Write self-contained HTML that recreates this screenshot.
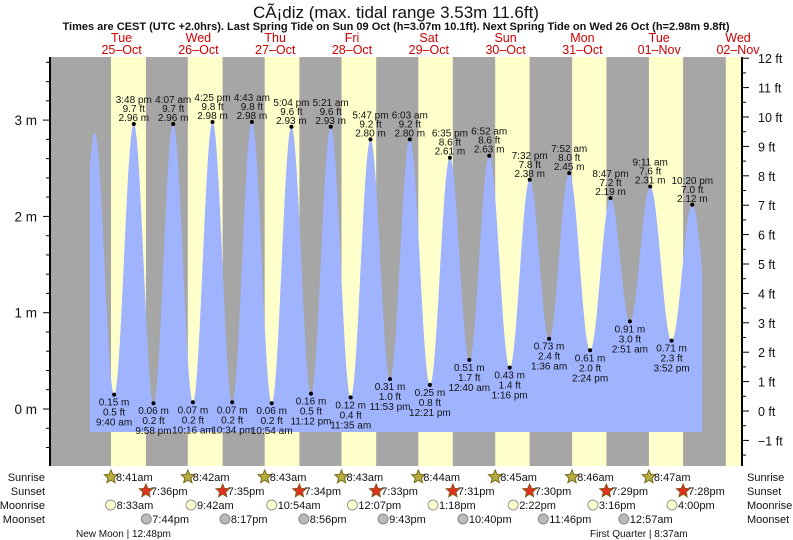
<!DOCTYPE html>
<html><head><meta charset="utf-8"><style>
html,body{margin:0;padding:0;background:#fff;width:793px;height:540px;overflow:hidden}
svg{display:block;font-family:"Liberation Sans",sans-serif}
</style></head><body>
<svg id="s" width="793" height="540" viewBox="0 0 793 540" xmlns="http://www.w3.org/2000/svg"></svg>
<script>
var S=document.getElementById('s');var o='';
var X0=83.2,PH=3.2;function X(h){return X0+h*PH}
function Y(m){return 409-m*96.3}
o+='<rect x="50" y="57" width="691" height="409" fill="#a6a6a6"/>';
var sr=[8.683,8.7,8.717,8.717,8.733,8.75,8.767,8.783,8.8],ss=[19.6,19.583,19.567,19.55,19.517,19.5,19.483,19.467,19.45];
for(var d=0;d<9;d++){var a=X(d*24+sr[d]),b=X(d*24+ss[d]);if(a>741)break;b=Math.min(b,741);o+='<rect x="'+a.toFixed(1)+'" y="57" width="'+(b-a).toFixed(1)+'" height="409" fill="#ffffcc"/>';}
var E=[[3.6,2.87],[9.67,0.15],[15.8,2.96],[21.97,0.06],[28.12,2.96],[34.27,0.07],[40.42,2.98],[46.57,0.07],[52.72,2.98],[58.9,0.06],[65.07,2.93],[71.2,0.16],[77.35,2.93],[83.58,0.12],[89.78,2.80],[95.88,0.31],[102.05,2.80],[108.35,0.25],[114.58,2.61],[120.67,0.51],[126.87,2.63],[133.27,0.43],[139.53,2.38],[145.6,0.73],[151.87,2.45],[158.4,0.61],[164.78,2.19],[170.85,0.91],[177.18,2.31],[183.87,0.71],[190.33,2.12],[196.6,0.75]];
E.unshift([-2.6,0.2]);
function lvl(h){for(var i=0;i<E.length-1;i++){if(h>=E[i][0]&&h<=E[i+1][0]){var f=(h-E[i][0])/(E[i+1][0]-E[i][0]);return E[i][1]+(E[i+1][1]-E[i][1])*(1-Math.cos(Math.PI*f))/2;}}return 0}
var p='M90,432';for(var x=90;x<=702;x+=0.5){var h=(x-X0)/PH;p+=' L'+x+','+Y(lvl(h)).toFixed(1);}p+=' L702,432 Z';
o+='<path d="'+p+'" fill="#9fb3ff"/>';
var L=[[15.8,2.96,'3:48 pm','9.7 ft'],[28.12,2.96,'4:07 am','9.7 ft'],[40.42,2.98,'4:25 pm','9.8 ft'],[52.72,2.98,'4:43 am','9.8 ft'],[65.07,2.93,'5:04 pm','9.6 ft'],[77.35,2.93,'5:21 am','9.6 ft'],[89.78,2.80,'5:47 pm','9.2 ft'],[102.05,2.80,'6:03 am','9.2 ft'],[114.58,2.61,'6:35 pm','8.6 ft'],[126.87,2.63,'6:52 am','8.6 ft'],[139.53,2.38,'7:32 pm','7.8 ft'],[151.87,2.45,'7:52 am','8.0 ft'],[164.78,2.19,'8:47 pm','7.2 ft'],[177.18,2.31,'9:11 am','7.6 ft'],[190.33,2.12,'10:20 pm','7.0 ft']];
var Lo=[[9.67,0.15,'9:40 am','0.5 ft'],[21.97,0.06,'9:58 pm','0.2 ft'],[34.27,0.07,'10:16 am','0.2 ft'],[46.57,0.07,'10:34 pm','0.2 ft'],[58.9,0.06,'10:54 am','0.2 ft'],[71.2,0.16,'11:12 pm','0.5 ft'],[83.58,0.12,'11:35 am','0.4 ft'],[95.88,0.31,'11:53 pm','1.0 ft'],[108.35,0.25,'12:21 pm','0.8 ft'],[120.67,0.51,'12:40 am','1.7 ft'],[133.27,0.43,'1:16 pm','1.4 ft'],[145.6,0.73,'1:36 am','2.4 ft'],[158.4,0.61,'2:24 pm','2.0 ft'],[170.85,0.91,'2:51 am','3.0 ft'],[183.87,0.71,'3:52 pm','2.3 ft']];
var T='font-size="10" fill="#111" text-anchor="middle"';
L.forEach(function(e){var x=X(e[0]),y=Y(e[1]);o+='<circle cx="'+x.toFixed(1)+'" cy="'+y.toFixed(1)+'" r="2" fill="#000"/>';
o+='<text x="'+x.toFixed(1)+'" y="'+(y-3).toFixed(1)+'" '+T+'>'+e[1].toFixed(2)+' m</text><text x="'+x.toFixed(1)+'" y="'+(y-12).toFixed(1)+'" '+T+'>'+e[3]+'</text><text x="'+x.toFixed(1)+'" y="'+(y-21).toFixed(1)+'" '+T+'>'+e[2]+'</text>';});
Lo.forEach(function(e){var x=X(e[0]),y=Y(e[1]);o+='<circle cx="'+x.toFixed(1)+'" cy="'+y.toFixed(1)+'" r="2" fill="#000"/>';
o+='<text x="'+x.toFixed(1)+'" y="'+(y+11).toFixed(1)+'" '+T+'>'+e[1].toFixed(2)+' m</text><text x="'+x.toFixed(1)+'" y="'+(y+21).toFixed(1)+'" '+T+'>'+e[3]+'</text><text x="'+x.toFixed(1)+'" y="'+(y+31).toFixed(1)+'" '+T+'>'+e[2]+'</text>';});
o+='<line x1="50" y1="57" x2="50" y2="466" stroke="#000" stroke-width="2"/><line x1="742" y1="57" x2="742" y2="466" stroke="#000" stroke-width="2"/>';
for(var m=-0.6;m<=3.61;m+=0.2){var y=Y(m);if(y<57||y>466)continue;var maj=Math.abs(m-Math.round(m))<0.01;o+='<line x1="'+(maj?43:46)+'" y1="'+y.toFixed(1)+'" x2="50" y2="'+y.toFixed(1)+'" stroke="#000"/>';if(maj)o+='<text x="37" y="'+(y+5).toFixed(1)+'" font-size="13.5" text-anchor="end" fill="#111">'+Math.round(m)+' m</text>';}
for(var f=-1.5;f<=12.01;f+=0.5){var y=411-f*29.4;var maj=Math.abs(f-Math.round(f))<0.01;o+='<line x1="742" y1="'+y.toFixed(1)+'" x2="'+(maj?749:746)+'" y2="'+y.toFixed(1)+'" stroke="#000"/>';if(maj)o+='<text x="758" y="'+(y+5).toFixed(1)+'" font-size="12.5" fill="#111">'+(f<0?'\u2212'+(-f):f)+' ft</text>';}
o+='<text x="396" y="18" font-size="17" text-anchor="middle" fill="#111">CÃ¡diz (max. tidal range 3.53m 11.6ft)</text>';
o+='<text x="396" y="30" font-size="11" font-weight="bold" text-anchor="middle" fill="#111">Times are CEST (UTC +2.0hrs). Last Spring Tide on Sun 09 Oct (h=3.07m 10.1ft). Next Spring Tide on Wed 26 Oct (h=2.98m 9.8ft)</text>';
var dn=['Tue','Wed','Thu','Fri','Sat','Sun','Mon','Tue','Wed'],dd=['25\u2013Oct','26\u2013Oct','27\u2013Oct','28\u2013Oct','29\u2013Oct','30\u2013Oct','31\u2013Oct','01\u2013Nov','02\u2013Nov'];
for(var d=0;d<9;d++){var x=X(d*24+12);if(d==8)x=738;o+='<text x="'+x.toFixed(1)+'" y="42" font-size="12.5" fill="#cc0000" text-anchor="middle">'+dn[d]+'</text><text x="'+x.toFixed(1)+'" y="54" font-size="12.5" fill="#cc0000" text-anchor="middle">'+dd[d]+'</text>';}
var rows=['Sunrise','Sunset','Moonrise','Moonset'],ry=[477,491,505,519];
rows.forEach(function(r,i){o+='<text x="45" y="'+(ry[i]+4)+'" font-size="11" text-anchor="end" fill="#111">'+r+'</text><text x="747" y="'+(ry[i]+4)+'" font-size="11" fill="#111">'+r+'</text>';});
function star(cx,cy,fill,stroke){var pts='';for(var k=0;k<10;k++){var rr=k%2?3.2:7,a=-Math.PI/2+k*Math.PI/5;pts+=(cx+rr*Math.cos(a)).toFixed(1)+','+(cy+rr*Math.sin(a)).toFixed(1)+' ';}return '<polygon points="'+pts+'" fill="'+fill+'" stroke="'+stroke+'" stroke-width="1"/>';}
var srt=['8:41am','8:42am','8:43am','8:43am','8:44am','8:45am','8:46am','8:47am'],sst=['7:36pm','7:35pm','7:34pm','7:33pm','7:31pm','7:30pm','7:29pm','7:28pm'];
for(var d=0;d<8;d++){var x=X(d*24+sr[d]);o+=star(x,ry[0],'#b5ad3c','#7a6a20')+'<text x="'+(x+5).toFixed(1)+'" y="'+(ry[0]+4)+'" font-size="11" fill="#111">'+srt[d]+'</text>';
x=X(d*24+ss[d]);o+=star(x,ry[1],'#e03020','#8a5a20')+'<text x="'+(x+5).toFixed(1)+'" y="'+(ry[1]+4)+'" font-size="11" fill="#111">'+sst[d]+'</text>';}
var mr=[[8.55,'8:33am'],[33.7,'9:42am'],[58.9,'10:54am'],[84.12,'12:07pm'],[109.3,'1:18pm'],[134.37,'2:22pm'],[159.27,'3:16pm'],[184,'4:00pm']];
mr.forEach(function(e){var x=X(e[0]);o+='<circle cx="'+x.toFixed(1)+'" cy="'+ry[2]+'" r="5" fill="#ffffcc" stroke="#999"/><text x="'+(x+6).toFixed(1)+'" y="'+(ry[2]+4)+'" font-size="11" fill="#111">'+e[1]+'</text>';});
var ms=[[19.73,'7:44pm'],[44.28,'8:17pm'],[68.93,'8:56pm'],[93.72,'9:43pm'],[118.67,'10:40pm'],[143.77,'11:46pm'],[168.95,'12:57am']];
ms.forEach(function(e){var x=X(e[0]);o+='<circle cx="'+x.toFixed(1)+'" cy="'+ry[3]+'" r="5" fill="#bbbbb5" stroke="#888"/><text x="'+(x+6).toFixed(1)+'" y="'+(ry[3]+4)+'" font-size="11" fill="#111">'+e[1]+'</text>';});
o+='<text x="76" y="537" font-size="10" fill="#111">New Moon | 12:48pm</text><text x="590" y="537" font-size="10" fill="#111">First Quarter | 8:37am</text>';
S.innerHTML=o;
</script>
</body></html>
